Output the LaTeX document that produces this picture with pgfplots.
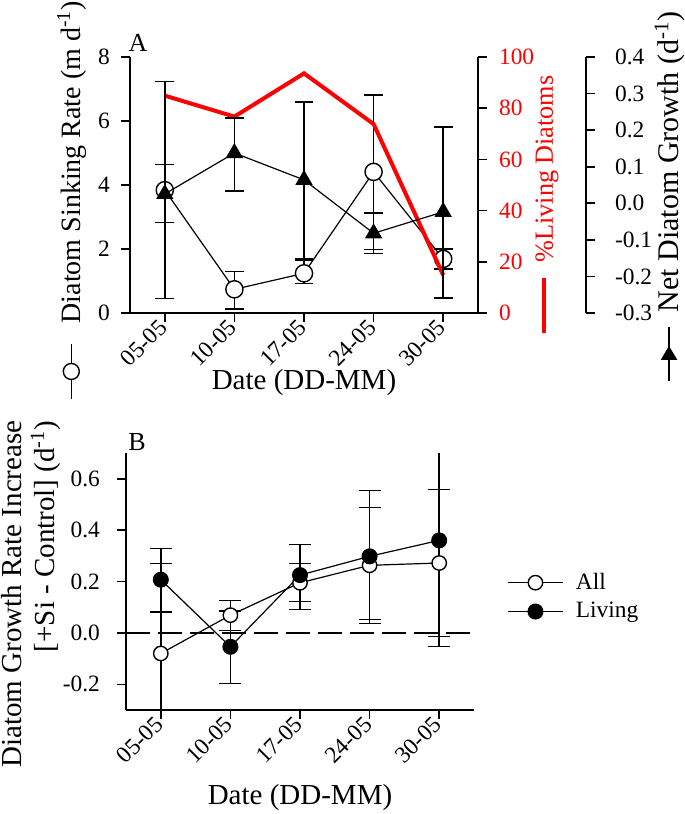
\documentclass[border=0pt]{standalone}
\usepackage{fontspec}
\setmainfont{Liberation Serif}
\usepackage{pgfplots}
\pgfplotsset{compat=1.18}
\newcommand\ff{\fontsize{11.7}{14}\selectfont}
\newcommand\fl{\fontsize{14.5}{16.5}\selectfont}
\newcommand\symcirc{\tikz[baseline=0pt]{\draw[line width=0.7pt] (0,0.33em)--(27.5pt,0.33em); \draw[line width=0.7pt,fill=white] (13.75pt,0.33em) circle (4pt);}}
\newcommand\symtri{\tikz[baseline=0pt]{\draw[line width=0.7pt] (0,0.33em)--(27pt,0.33em); \fill ([yshift=0.33em]17.5pt,0pt)--([yshift=0.33em]10.5pt,4.2pt)--([yshift=0.33em]10.5pt,-4.2pt)--cycle;}}
\newcommand\symred{\tikz[baseline=0pt]{\draw[red,line width=2pt] (0,0.33em)--(27.5pt,0.33em);}}
\pgfplotsset{
  base/.style={
    scale only axis, width=174pt, height=128pt,
    xmin=-0.5, xmax=4.5,
    tick label style={font=\ff},
    label style={font=\fl, inner sep=0pt},
    /pgf/number format/assume math mode=true,
    tick align=outside, major tick length=4.5pt,
    tick style={black, line width=0.8pt},
    axis line style={-, line width=0.8pt},
    xtick={0,1,2,3,4}, xticklabels={05-05,10-05,17-05,24-05,30-05},
    xticklabel style={rotate=45, anchor=east, inner sep=1pt},
    clip=true,
  },
  errA/.style={error bars/.cd, y dir=both, y explicit, error mark=-,
    error mark options={rotate=90, mark size=4.7pt, line width=0.7pt, black},
    error bar style={line width=0.7pt, black}},
  errB/.style={error bars/.cd, y dir=both, y explicit, error mark=-,
    error mark options={rotate=90, mark size=5.5pt, line width=0.7pt, black},
    error bar style={line width=0.7pt, black}},
}
\begin{document}
\begin{tikzpicture}
\useasboundingbox (0,0) rectangle (342.5pt,407pt);
% ---------- Panel A: sinking rate ----------
\begin{axis}[base, at={(65pt,250.5pt)}, anchor=south west,
  ymin=0, ymax=8, ytick={0,2,4,6,8},
  yticklabel style={xshift=-2pt},
  axis x line*=bottom, axis y line*=left,
  ylabel={\symcirc\hspace{10pt}Diatom Sinking Rate (m d\textsuperscript{-1})},
  ylabel style={at={(axis description cs:-0.167,0.44)}, anchor=center, font=\fontsize{14}{16}\selectfont},
  xlabel={Date (DD-MM)},
  xlabel style={at={(axis description cs:0.5,-0.27)}, anchor=center},
]
\addplot[black, line width=0.6pt, mark=*, mark size=4.3pt,
  mark options={fill=white, draw=black, line width=0.7pt}, errA]
  coordinates {
  (0,3.84) += (0,0.81) -= (0,1.01)
  (1,0.74) += (0,0.55) -= (0,0.61)
  (2,1.24) += (0,0.40) -= (0,0.31)
  (3,4.41) += (0,2.40) -= (0,2.42)
  (4,1.69) += (0,0.31) -= (0,0.32)
  };
\end{axis}
% ---------- Panel A: % living (red) ----------
\begin{axis}[base, at={(65pt,250.5pt)}, anchor=south west,
  ymin=0, ymax=100, ytick={0,20,40,60,80,100},
  hide x axis, axis y line*=right,
  yticklabel style={red, xshift=2.5pt},
  ylabel={\symred\hspace{7pt}\textcolor{red}{\%Living Diatoms}},
  ylabel style={at={(axis description cs:1.198,0.42)}, anchor=center, font=\fontsize{13.1}{15}\selectfont},
]
\addplot[red, line width=2pt, no marks] coordinates {
  (0,84.9) (1,76.7) (2,93.6) (3,73.8) (4,14.8)
  };
\end{axis}
% ---------- Panel A: net growth (triangles) ----------
\begin{axis}[base, at={(65pt,250.5pt)}, anchor=south west,
  ymin=-0.3, ymax=0.4, hide axis]
\addplot[black, line width=0.6pt, mark=triangle*, mark size=4.4pt,
  mark options={fill=black, draw=black}, errA]
  coordinates {
  (0,0.0255) += (0,0.308) -= (0,0.286)
  (1,0.1375) += (0,0.096) -= (0,0.104)
  (2,0.064) += (0,0.213) -= (0,0.216)
  (3,-0.082) += (0,0.055) -= (0,0.055)
  (4,-0.0235) += (0,0.232) -= (0,0.236)
  };
\end{axis}
% ---------- Panel A: offset growth axis ----------
\begin{axis}[scale only axis, width=1pt, height=128pt,
  at={(293pt,250.5pt)}, anchor=south east,
  xmin=0, xmax=1, ymin=-0.3, ymax=0.4,
  hide x axis, axis y line*=right,
  ytick={-0.3,-0.2,-0.1,0,0.1,0.2,0.3,0.4},
  tick label style={font=\ff},
  label style={font=\fontsize{15}{17}\selectfont, inner sep=0pt},
  /pgf/number format/assume math mode=true,
  yticklabel style={xshift=6.5pt, /pgf/number format/.cd, fixed, fixed zerofill, precision=1},
  tick align=outside, major tick length=4.5pt,
  tick style={black, line width=0.8pt},
  axis line style={-, line width=0.8pt},
  ylabel={\symtri\hspace{7pt}Net Diatom Growth (d\textsuperscript{-1})},
  ylabel style={at={(axis description cs:43,0.455)}, anchor=center},
]
\end{axis}
\node[font=\fontsize{13}{15}\selectfont] at (69pt,385.5pt) {A};
% ---------- Panel B ----------
\begin{axis}[base, at={(63pt,52pt)}, anchor=south west, height=128.5pt,
  ymin=-0.3, ymax=0.7, ytick={-0.2,0,0.2,0.4,0.6},
  axis x line*=bottom, axis y line*=left,
  yticklabel style={xshift=-5pt, /pgf/number format/.cd, fixed, fixed zerofill, precision=1},
  ylabel={Diatom Growth Rate Increase\\{[}+Si - Control{]} (d\textsuperscript{-1})},
  ylabel style={align=right, at={(axis description cs:-0.273,1.128)}, anchor=east},
  xlabel={Date (DD-MM)},
  xlabel style={at={(axis description cs:0.5,-0.342)}, anchor=center},
  legend cell align=left,
  legend style={draw=none, fill=none, at={(1.078,0.44)}, anchor=west, font=\ff, row sep=1pt},
  legend image code/.code={\draw[mark repeat=2,mark phase=2] plot coordinates {(0cm,0cm) (0.48cm,0cm) (0.97cm,0cm)};},
]
\addplot[black, line width=0.7pt, dash pattern=on 12pt off 4pt, forget plot] coordinates {(-0.5,0) (4.5,0)};
\addplot[black, line width=0.6pt, mark=*, mark size=3.6pt,
  mark options={fill=white, draw=black, line width=0.7pt}, errB]
  coordinates {
  (0,-0.08) += (0,0.35) -= (0,0.35)
  (1,0.069) += (0,0.057) -= (0,0.059)
  (2,0.195) += (0,0.075) -= (0,0.072)
  (3,0.263) += (0,0.224) -= (0,0.21)
  (4,0.272) += (0,0.286) -= (0,0.286)
  };
\addplot[black, line width=0.6pt, mark=*, mark size=3.7pt,
  mark options={fill=black, draw=black}, errB]
  coordinates {
  (0,0.207) += (0,0.121) -= (0,0.125)
  (1,-0.054) += (0,0.139) -= (0,0.143)
  (2,0.225) += (0,0.12) -= (0,0.133)
  (3,0.298) += (0,0.256) -= (0,0.262)
  (4,0.36) += (0,0.414) -= (0,0.414)
  };
\legend{\hspace{4pt}All, \hspace{4pt}Living}
\end{axis}
\node[font=\fontsize{13}{15}\selectfont] at (68.5pt,186pt) {B};
\end{tikzpicture}
\end{document}
